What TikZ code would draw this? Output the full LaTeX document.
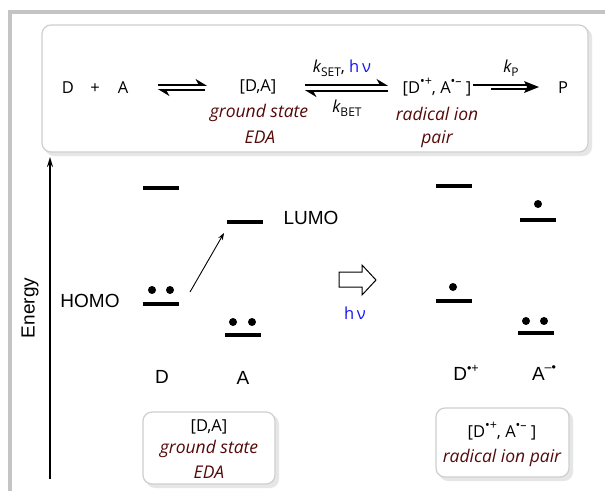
\documentclass[tikz,border=0pt]{standalone}
\usepackage{fontspec}
\setmainfont{Open Sans}
\newfontfamily\arialf{Liberation Sans}
\usetikzlibrary{arrows.meta}
\definecolor{framegrey}{HTML}{C4C4C4}
\definecolor{boxgrey}{HTML}{CFCFCF}
\definecolor{shadowgrey}{HTML}{E6E6E6}
\definecolor{darkred}{RGB}{85,10,10}
\definecolor{hvblue}{RGB}{20,20,240}
\newcommand{\radsup}[1]{\raisebox{0.45em}{\fontsize{12.5}{12.5}\selectfont #1}}
\newcommand{\lowsub}[1]{\raisebox{-0.25em}{\fontsize{12}{12}\selectfont\upshape #1}}
\tikzset{
  rxn/.style={font=\fontsize{16.5}{19}\selectfont, inner sep=0pt},
  note/.style={font=\fontsize{17.5}{20}\selectfont\itshape, text=darkred, inner sep=0pt},
  lbl/.style={font=\arialf\fontsize{19}{22}\selectfont, inner sep=0pt},
  level/.style={fill=black, minimum width=36pt, minimum height=4pt, inner sep=0pt, draw=none},
  electron/.style={circle, fill=black, minimum size=8pt, inner sep=0pt},
  eqarrow/.style={line width=2.3pt, -{Stealth[harpoon,length=10pt,width=12pt]}},
  panel/.style={draw=boxgrey, line width=1.2pt, fill=white, rounded corners=9pt},
  panelshadow/.style={fill=shadowgrey, draw=none, rounded corners=9pt},
}
\begin{document}
\begin{tikzpicture}[x=1pt,y=-1pt]
\useasboundingbox (0,0) rectangle (605,491);
\fill[white] (0,0) rectangle (605,491);
% outer frame
\draw[framegrey, line width=4pt] (10,491) -- (10,12) -- (605,12);

% top panel
\fill[panelshadow] (45,28) rectangle (592,156);
\draw[panel] (42,25) rectangle (588,152);

\node[rxn] (D0) at (68,88) {D};
\node[rxn] (plus) at (95,88.5) {+};
\node[rxn] (A0) at (123,88) {A};
\coordinate (e1a) at (158,85);
\coordinate (e1b) at (207,85);
\coordinate (e1c) at (205,90);
\coordinate (e1d) at (158,90);
\draw[eqarrow] (e1a) -- (e1b);
\draw[eqarrow] (e1c) -- (e1d);

\node[rxn] (DA) at (258,87) {[D,A]};
\node[note] (gs) at (259,113) {ground state};
\node[note] (eda) at (260,137) {EDA};

\coordinate (s1a) at (305,85);
\coordinate (s1b) at (388,85);
\coordinate (s1c) at (388,91);
\coordinate (s1d) at (305,91);
\draw[eqarrow] (s1a) -- (s1b);
\draw[eqarrow] (s1c) -- (s1d);
\node[rxn] (kset) at (342,68) {{\itshape k}\lowsub{SET}, \textcolor{hvblue}{h\,ν}};
\node[rxn] (kbet) at (347,108) {{\itshape k}\lowsub{BET}};

\node[rxn] (rip) at (437,87) {[D\radsup{•+}, A\radsup{•–}\ ]};
\node[note] (rad) at (437,114) {radical ion};
\node[note] (pair) at (437,139) {pair};

\coordinate (p1a) at (473,85);
\coordinate (p1b) at (530,85);
\coordinate (p2a) at (491,89);
\coordinate (p2b) at (530,89);
\coordinate (ptip) at (539,87);
\draw[line width=2pt] (p1a) -- (p1b);
\draw[line width=2pt] (p2a) -- (p2b);
\fill (ptip) -- (524,81) -- (527,87) -- (524,93) -- cycle;
\node[rxn] (kp) at (511,68) {{\itshape k}\lowsub{P}};
\node[rxn] (P) at (563,88) {P};

% energy axis
\coordinate (eb) at (50,479);
\coordinate (et) at (50,157);
\draw[line width=1.8pt, -{Stealth[length=10pt,width=6pt]}] (eb) -- (et);
\node[lbl, rotate=90] (energy) at (30,308) {Energy};

% left MO diagram
\node[level] (dL) at (161,188) {};
\node[level] (dH) at (161,304) {};
\node[level] (aL) at (245,222) {};
\node[level] (aH) at (243,335) {};
\node[electron] (d1) at (152,290) {};
\node[electron] (d2) at (170,290) {};
\node[electron] (a1) at (233,322) {};
\node[electron] (a2) at (252,322) {};
\node[lbl] (homo) at (90,301) {HOMO};
\node[lbl] (lumo) at (311,218) {LUMO};
\coordinate (exs) at (190,292);
\coordinate (exe) at (224,233);
\draw[line width=0.9pt, -{Stealth[length=7pt,width=5pt]}] (exs) -- (exe);
\node[lbl] (Dl) at (162,377) {D};
\node[lbl] (Al) at (243,378) {A};

% hollow arrow and hv
\draw[line width=1pt, fill=white] (339,272) -- (362,272) -- (362,265) -- (376,280) -- (362,295) -- (362,287) -- (339,287) -- cycle;
\node[rxn, text=hvblue] (hv) at (355,313) {h\,ν};

% right MO diagram
\node[level] (rdL) at (454,186) {};
\node[level] (rdH) at (454,301) {};
\node[level] (raL) at (538,220) {};
\node[level] (raH) at (536,333) {};
\node[electron] (r1) at (453,287) {};
\node[electron] (r2) at (538,204) {};
\node[electron] (r3) at (526,321) {};
\node[electron] (r4) at (544,321) {};
\node[lbl] (Dp) at (466,373) {D\radsup{\arialf •+}};
\node[lbl] (Am) at (544,373) {A\radsup{\arialf –•}};

% bottom panels
\fill[panelshadow] (146,415) rectangle (279,488);
\draw[panel] (143,412) rectangle (275,484);
\node[rxn] (DA2) at (209,427) {[D,A]};
\node[note] (gs2) at (209,449) {ground state};
\node[note] (eda2) at (209,472) {EDA};

\fill[panelshadow] (439,411) rectangle (573,481);
\draw[panel] (436,408) rectangle (569,477);
\node[rxn] (rip2) at (502,431) {[D\radsup{•+}, A\radsup{•–}\ ]};
\node[note] (rad2) at (502,458) {radical ion pair};
\end{tikzpicture}
\end{document}
